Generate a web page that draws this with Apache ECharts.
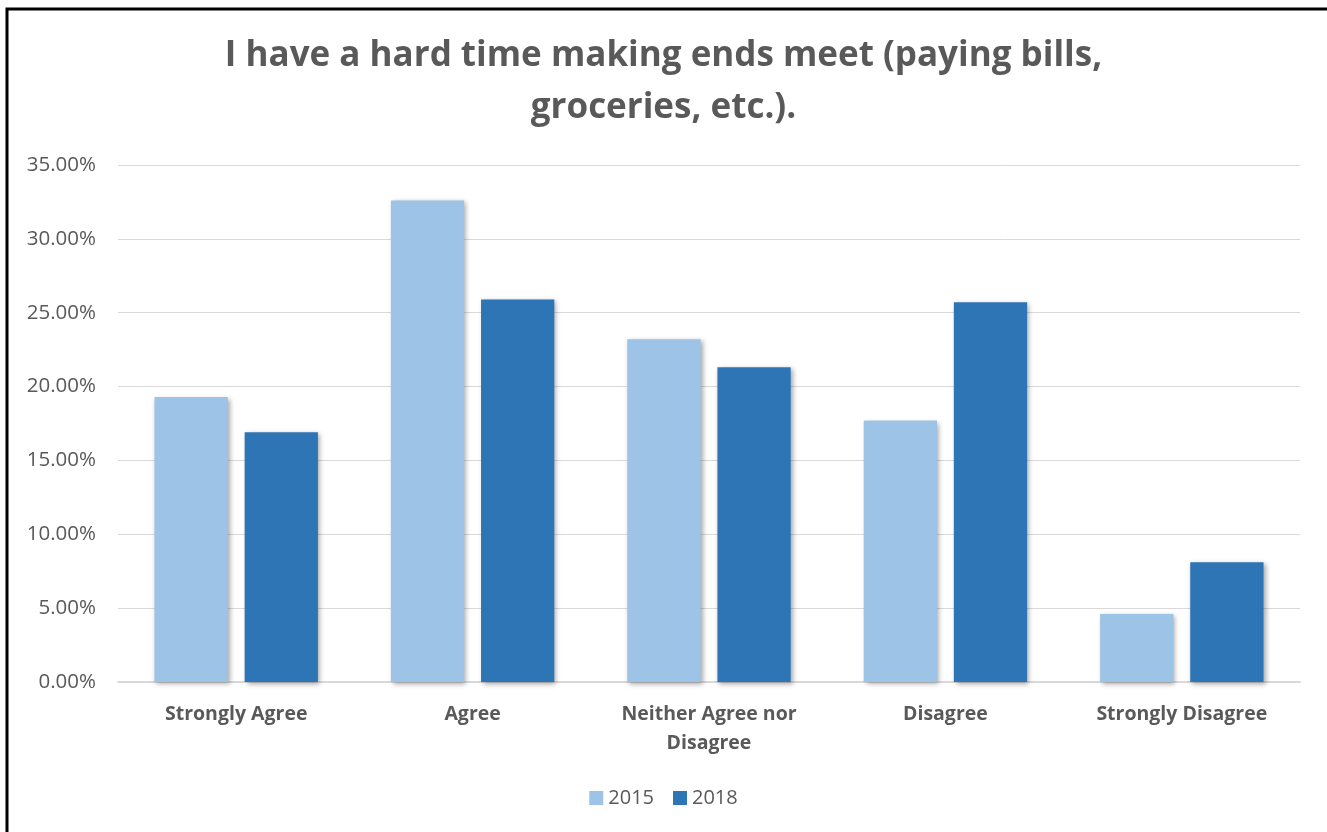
<!DOCTYPE html>
<html><head><meta charset="utf-8">
<script src="https://cdn.jsdelivr.net/npm/echarts@6/dist/echarts.min.js"></script>
<style>html,body{margin:0;padding:0;background:#fff}#c{width:1327px;height:832px}</style>
</head><body><div id="c"></div>
<script>
const categories = ['Strongly Agree', 'Agree', 'Neither Agree nor\nDisagree', 'Disagree', 'Strongly Disagree'];
const values2015 = [19.3, 32.6, 23.2, 17.7, 4.6];
const values2018 = [16.9, 25.9, 21.3, 25.7, 8.1];
const seriesNames = ['2015', '2018'];
const colors = ['#9DC3E6', '#2E75B6'];
const titleText = 'I have a hard time making ends meet (paying bills,\ngroceries, etc.).';

const chart = echarts.init(document.getElementById('c'));
const font = '"Open Sans", sans-serif';
const shadow = {shadowBlur: 5, shadowColor: 'rgba(0,0,0,0.35)', shadowOffsetX: 2, shadowOffsetY: 2};
chart.setOption({
  animation: false,
  textStyle: {fontFamily: font},
  title: {
    text: titleText, left: 'center', top: 25,
    textStyle: {fontFamily: font, fontSize: 35, fontWeight: 'bold', color: '#595959', lineHeight: 52}
  },
  graphic: [{type: 'rect', shape: {x: 7, y: 9, width: 1400, height: 900}, style: {fill: 'none', stroke: '#000', lineWidth: 3}, z: 100}],
  legend: {
    bottom: 19, left: 'center', itemWidth: 14, itemHeight: 14, itemGap: 19,
    icon: 'rect',
    textStyle: {fontSize: 20, color: '#595959', fontFamily: font}
  },
  grid: {left: 118, right: 27, top: 165, bottom: 150},
  xAxis: {
    type: 'category', data: categories,
    axisLine: {lineStyle: {color: '#d9d9d9', width: 2}},
    axisTick: {show: false},
    axisLabel: {fontSize: 19.5, fontWeight: 'bold', color: '#595959', margin: 18, lineHeight: 29, interval: 0}
  },
  yAxis: {
    type: 'value', min: 0, max: 35, interval: 5,
    axisLine: {show: false}, axisTick: {show: false},
    splitLine: {lineStyle: {color: '#d9d9d9', width: 1}},
    axisLabel: {fontSize: 20.5, color: '#595959', margin: 22, formatter: v => v.toFixed(2) + '%'}
  },
  series: [
    {name: seriesNames[0], type: 'bar', data: values2015, barWidth: '31%', barGap: '23%', itemStyle: Object.assign({color: colors[0]}, shadow)},
    {name: seriesNames[1], type: 'bar', data: values2018, barWidth: '31%', barGap: '23%', itemStyle: Object.assign({color: colors[1]}, shadow)}
  ]
});
</script></body></html>
